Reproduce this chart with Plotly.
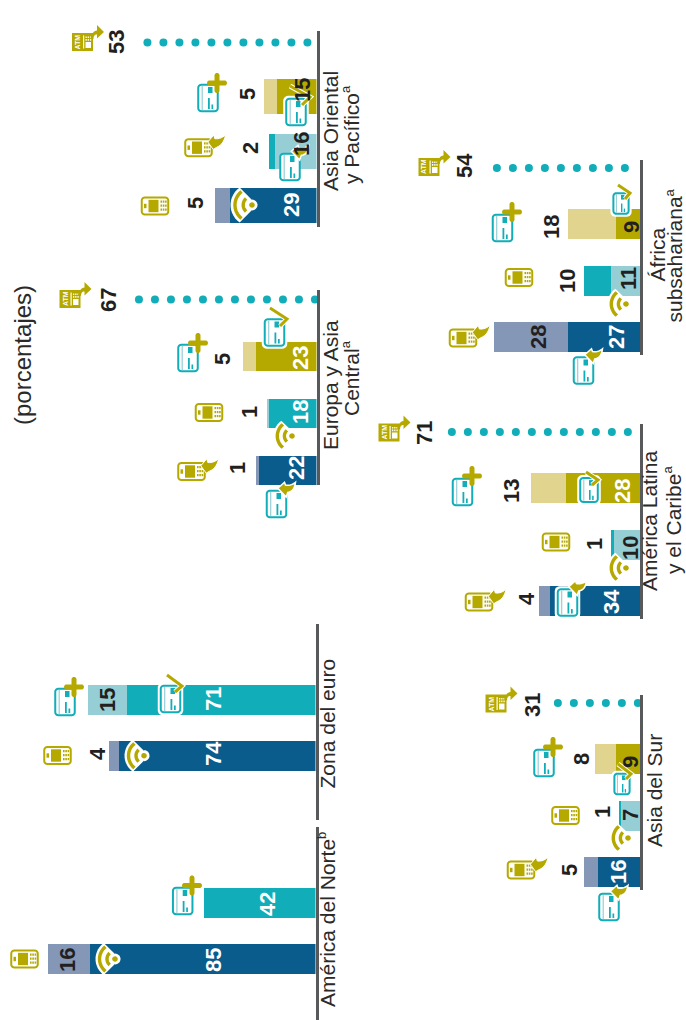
import math
import numpy as np
import plotly.graph_objects as go

W, H = 686, 1020

# Stacked shares per region: bars run from the baseline outwards
ROWS = ["Sin contacto", "Con tarjeta", "Crédito", "Cajero"]

NORTE_INNER = [85, 42]
NORTE_OUTER = [16, None]
EURO_INNER = [74, 71]
EURO_OUTER = [4, 15]
ORIENTAL_INNER = [29, 16, 15]
ORIENTAL_OUTER = [5, 2, 5]
ORIENTAL_ATM = 53
EUROPA_INNER = [22, 18, 23]
EUROPA_OUTER = [1, 1, 5]
EUROPA_ATM = 67
LATINA_INNER = [34, 10, 28]
LATINA_OUTER = [4, 1, 13]
LATINA_ATM = 71
AFRICA_INNER = [27, 11, 9]
AFRICA_OUTER = [28, 10, 18]
AFRICA_ATM = 54
SUR_INNER = [16, 7, 9]
SUR_OUTER = [5, 1, 8]
SUR_ATM = 31

NAVY, SLATE = "#0a5c8c", "#8497b7"
TEAL, PALE_TEAL = "#11adb8", "#96ced6"
OLIVE, PALE_OLIVE = "#b5a900", "#e0d48e"
AXIS_GREY = "#58595b"
INK = "#231f20"
FONT = "Liberation Sans"
PX_PER_UNIT = 2.65
DOT_GAP_PX = 16


def px(x, y):
    return f"{x / W:.5f},{1 - y / H:.5f}"


shapes = []


def add_path(points, fill=None, line=None, lw=0, close=True):
    d = "M" + " L".join(px(*p) for p in points) + (" Z" if close else "")
    shapes.append(dict(type="path", xref="paper", yref="paper", path=d, layer="above",
                       fillcolor=fill if fill else "rgba(0,0,0,0)",
                       line=dict(color=line if line else "rgba(0,0,0,0)", width=lw)))


def box(x0, y0, x1, y1, fill):
    add_path([(x0, y0), (x1, y0), (x1, y1), (x0, y1)], fill=fill)


def rounded(cx, cy, w, h, r):
    pts = []
    corners = [(cx + w / 2 - r, cy - h / 2 + r, -90), (cx + w / 2 - r, cy + h / 2 - r, 0),
               (cx - w / 2 + r, cy + h / 2 - r, 90), (cx - w / 2 + r, cy - h / 2 + r, 180)]
    for qx, qy, a0 in corners:
        for a in np.linspace(a0, a0 + 90, 6):
            pts.append((qx + r * math.cos(math.radians(a)), qy + r * math.sin(math.radians(a))))
    return pts


def arc(cx, cy, r, a0, a1, n=14):
    return [(cx + r * math.cos(math.radians(a)), cy + r * math.sin(math.radians(a)))
            for a in np.linspace(a0, a1, n)]


def curve(p0, c, p1, n=8):
    return [((1 - t) ** 2 * p0[0] + 2 * t * (1 - t) * c[0] + t ** 2 * p1[0],
             (1 - t) ** 2 * p0[1] + 2 * t * (1 - t) * c[1] + t ** 2 * p1[1])
            for t in np.linspace(0, 1, n)]


def swoosh_phone(cx, cy):
    o = [(9.3, -5.7), (15.3, -12.7), (16.3, -9)]
    o += curve((16.3, -9), (22, -8.3), (27, -12.7))
    o += curve((27, -12.7), (25.3, -3.3), (18, -0.3))
    o += [(14.7, 1.7)]
    add_path([(cx + a, cy + b) for a, b in o], fill=OLIVE, line="white", lw=1)


def phone(cx, cy, swoosh=False):
    add_path(rounded(cx, cy, 26.5, 17, 3), fill="white", line=OLIVE, lw=2)
    box(cx - 11, cy - 2.2, cx - 8.5, cy + 2.2, OLIVE)
    box(cx - 6.5, cy - 6.2, cx + 3.5, cy + 6.2, OLIVE)
    for col in range(3):
        for row in range(3):
            gx = cx + 5.5 + col * 2.3
            gy = cy - 5.5 + row * 4
            box(gx, gy, gx + 1.6, gy + 2.2, OLIVE)
    if swoosh:
        swoosh_phone(cx, cy)


def card(cx, cy, k=1.0, halo=False):
    w, h = 19.5 * k, 26.5 * k
    if halo:
        add_path(rounded(cx, cy, w + 6, h + 6, 5), fill="white")
    add_path(rounded(cx, cy, w, h, 3), fill="white", line=TEAL, lw=2)
    box(cx - 6.4 * k, cy - 12 * k, cx - 5.2 * k, cy + 12 * k, PALE_TEAL)
    box(cx, cy - 11 * k, cx + 4.5 * k, cy - 5 * k, TEAL)
    box(cx, cy, cx + 1.8 * k, cy + 11 * k, TEAL)
    box(cx + 3.5 * k, cy + 6.5 * k, cx + 5.2 * k, cy + 11 * k, TEAL)


def plus_mark(cx, cy):
    add_path(rounded(cx, cy, 20, 5, 2.4), fill=OLIVE)
    add_path(rounded(cx, cy, 5, 20, 2.4), fill=OLIVE)


def card_plus(cx, cy, mx, my):
    card(cx, cy)
    plus_mark(mx, my)


def card_check(cx, cy, tick, k=1.0):
    card(cx, cy, k, halo=True)
    add_path(tick, line="white", lw=5, close=False)
    add_path(tick, line=OLIVE, lw=3, close=False)


def card_swoosh(cx, cy, halo=False):
    card(cx, cy, halo=halo)
    o = [(1.3, -15.7), (8, -21.7), (9, -19)]
    o += curve((9, -19), (14.7, -18), (19, -21.7))
    o += curve((19, -21.7), (18, -12.3), (11.3, -11.7))
    o += [(9.7, -7)]
    add_path([(cx + a, cy + b) for a, b in o], fill=OLIVE, line="white", lw=1.5)


def wifi(cx, cy, k=1.0):
    spread = 55
    halo = [(cx + 5, cy)] + arc(cx, cy, 19.5 * k, 180 - spread, 180 + spread) + [(cx + 5, cy)]
    add_path(halo, fill="white")
    add_path(arc(cx, cy, 5.5, -90, 90), fill="white")
    add_path(arc(cx, cy, 2.8, 0, 360), fill=OLIVE)
    for r, a in ((8 * k, 48), (15.5 * k, spread - 3)):
        add_path(arc(cx, cy, r, 180 - a, 180 + a), line=OLIVE, lw=3.4, close=False)


annotations = []


def label(text, x, y, size=21, bold=False, color=INK):
    annotations.append(dict(
        text=f"<b>{text}</b>" if bold else text, x=x / W, y=1 - y / H, xref="paper", yref="paper",
        xanchor="center", yanchor="middle", showarrow=False, textangle=-90, borderpad=0,
        font=dict(family=FONT, size=size, color=color)))


def note(letter):
    return f'<sup><span style="font-size:13px">{letter}</span></sup>'


def atm(cx, cy):
    box(cx - 10.5, cy - 9, cx + 10.5, cy + 9, OLIVE)
    box(cx + 0.5, cy - 6.5, cx + 1.7, cy + 6.5, "white")
    for col in range(3):
        for row in range(2):
            gx, gy = cx + 3 + col * 2.2, cy - 5.5 + row * 2.6
            box(gx, gy, gx + 1.3, gy + 1.6, "white")
    box(cx + 3, cy, cx + 8.5, cy + 6, "white")
    o = [(8, -4)] + curve((8, -4), (10, -11), (14.5, -11.5))
    o += [(14.5, -17), (21.5, -10), (14.5, -3.5), (14.5, -7.5)]
    o += curve((14.5, -7.5), (11, -7.5), (11, -3))
    add_path([(cx + a, cy + b) for a, b in o], fill=OLIVE)
    label("ATM", cx - 5, cy, size=7, bold=True, color="white")


# Geometry of each small multiple, all in page pixels
PANELS = [
    dict(inner=NORTE_INNER, outer=NORTE_OUTER, atm=None, base=315.5, top=827, bottom=1020,
         first=959, step=56, thick=30, pale_first=False),
    dict(inner=EURO_INNER, outer=EURO_OUTER, atm=None, base=315.5, top=624, bottom=820,
         first=756, step=56, thick=30, pale_first=False),
    dict(inner=ORIENTAL_INNER, outer=ORIENTAL_OUTER, atm=ORIENTAL_ATM, base=316.5, top=31, bottom=227,
         first=205.3, step=54.3, thick=35, pale_first=True, lead_scale=3.0, dot_scale=3.19),
    dict(inner=EUROPA_INNER, outer=EUROPA_OUTER, atm=EUROPA_ATM, base=316.5, top=290, bottom=485,
         first=470.5, step=57, thick=29.5, pale_first=False),
    dict(inner=LATINA_INNER, outer=LATINA_OUTER, atm=LATINA_ATM, base=640, top=424, bottom=619,
         first=601, step=56.3, thick=30, pale_first=True),
    dict(inner=AFRICA_INNER, outer=AFRICA_OUTER, atm=AFRICA_ATM, base=640, top=160, bottom=355,
         first=337, step=56.3, thick=30, pale_first=True),
    dict(inner=SUR_INNER, outer=SUR_OUTER, atm=SUR_ATM, base=640, top=695, bottom=890,
         first=872, step=56.3, thick=30, pale_first=True),
]

fig = go.Figure()
layout_axes = {}
next_axis = len(PANELS) + 1


def extra_axis(domain, span, scale, base_x, anchor):
    """Overlay x axis for a row that runs on its own scale inside a panel."""
    global next_axis
    name = f"x{next_axis}"
    layout_axes[f"xaxis{next_axis}"] = dict(
        domain=domain, range=[span / scale, 0], anchor=anchor, overlaying=base_x,
        visible=False, fixedrange=True)
    next_axis += 1
    return name


for i, p in enumerate(PANELS, start=1):
    suffix = "" if i == 1 else str(i)
    span = min(p["base"], 316)
    xa, ya = f"x{suffix}", f"y{suffix}"
    n = len(p["inner"])
    teal_pair = (PALE_TEAL, TEAL) if p["pale_first"] else (TEAL, PALE_TEAL)
    inner_colors = [NAVY, teal_pair[0], OLIVE]
    outer_colors = [SLATE, teal_pair[1], PALE_OLIVE]
    width = p["thick"] / p["step"]
    domain = [(p["base"] - span) / W, p["base"] / W]

    groups = [(list(range(n)), xa)]
    if "lead_scale" in p:
        groups = [([0], extra_axis(domain, span, p["lead_scale"], xa, ya)), (list(range(1, n)), xa)]
    for idx, axis in groups:
        rows = [ROWS[k] for k in idx]
        fig.add_trace(go.Bar(y=rows, x=[p["inner"][k] for k in idx], orientation="h", width=width,
                             xaxis=axis, yaxis=ya, showlegend=False,
                             marker=dict(color=[inner_colors[k] for k in idx], line_width=0)))
        fig.add_trace(go.Bar(y=rows, x=[p["outer"][k] or 0 for k in idx], orientation="h", width=width,
                             xaxis=axis, yaxis=ya, showlegend=False,
                             marker=dict(color=[outer_colors[k] for k in idx], line_width=0)))
    if p["atm"] is not None:
        dot_scale = p.get("dot_scale", PX_PER_UNIT)
        dot_axis = extra_axis(domain, span, dot_scale, xa, ya) if "dot_scale" in p else xa
        dots = np.arange(p["atm"], 0, -DOT_GAP_PX / dot_scale)
        fig.add_trace(go.Scatter(x=dots, y=[ROWS[3]] * len(dots), mode="markers", xaxis=dot_axis, yaxis=ya,
                                 marker=dict(color=TEAL, size=8, line_width=0), cliponaxis=False,
                                 showlegend=False))
    layout_axes[f"xaxis{suffix}"] = dict(
        domain=domain, range=[span / PX_PER_UNIT, 0], anchor=ya, visible=False, fixedrange=True)
    layout_axes[f"yaxis{suffix}"] = dict(
        domain=[1 - p["bottom"] / H, 1 - p["top"] / H],
        range=[(p["first"] - p["bottom"]) / p["step"], (p["first"] - p["top"]) / p["step"]],
        type="category", categoryorder="array", categoryarray=ROWS, anchor=xa, side="right",
        showline=True, linecolor=AXIS_GREY, linewidth=3, showticklabels=False, ticks="",
        showgrid=False, zeroline=False, fixedrange=True)

# Value labels: (value, x, y, colour)
VALUE_LABELS = [
    (NORTE_OUTER[0], 67, 960, INK), (NORTE_INNER[0], 213, 960, "white"), (NORTE_INNER[1], 267, 904, "white"),
    (EURO_OUTER[0], 97, 754, INK), (EURO_INNER[0], 213, 754, "white"),
    (EURO_OUTER[1], 107, 700, INK), (EURO_INNER[1], 213, 699, "white"),
    (ORIENTAL_ATM, 117, 42, INK), (ORIENTAL_OUTER[0], 196, 203, INK), (ORIENTAL_OUTER[1], 250, 148, INK),
    (ORIENTAL_OUTER[2], 247, 94, INK), (ORIENTAL_INNER[0], 292, 205, "white"),
    (ORIENTAL_INNER[1], 302, 144, INK), (ORIENTAL_INNER[2], 302, 90, INK),
    (EUROPA_ATM, 108, 300, INK), (EUROPA_OUTER[2], 222, 359, INK), (EUROPA_OUTER[1], 249, 412, INK),
    (EUROPA_OUTER[0], 238, 468, INK), (EUROPA_INNER[2], 300, 358, "white"),
    (EUROPA_INNER[1], 300, 412, "white"), (EUROPA_INNER[0], 297, 468, "white"),
    (LATINA_ATM, 424, 433, INK), (LATINA_OUTER[2], 511, 491, INK), (LATINA_OUTER[1], 594, 544, INK),
    (LATINA_OUTER[0], 526, 599, INK), (LATINA_INNER[2], 622, 491, "white"),
    (LATINA_INNER[1], 630, 548, INK), (LATINA_INNER[0], 611, 602, "white"),
    (AFRICA_ATM, 465, 166, INK), (AFRICA_OUTER[2], 551, 227, INK), (AFRICA_OUTER[1], 567, 281, INK),
    (AFRICA_OUTER[0], 539, 337, INK), (AFRICA_INNER[2], 631, 227, INK),
    (AFRICA_INNER[1], 628, 279, INK), (AFRICA_INNER[0], 617, 337, "white"),
    (SUR_ATM, 532, 705, INK), (SUR_OUTER[2], 581, 759, INK), (SUR_OUTER[1], 602, 812, INK),
    (SUR_OUTER[0], 569, 870, INK), (SUR_INNER[2], 630, 762, INK),
    (SUR_INNER[1], 630, 815, INK), (SUR_INNER[0], 618, 872, "white"),
]

# Region names, one annotation per line: (text, x, y)
REGION_LINES = [
    ("América del Norte" + note("b"), 326, 920),
    ("Zona del euro", 327, 723.5),
    ("Asia Oriental", 330, 131),
    ("y Pacífico" + note("a"), 351, 134),
    ("Europa y Asia", 330, 385),
    ("Central" + note("a"), 350, 378),
    ("América Latina", 649, 521),
    ("y el Caribe" + note("a"), 672, 520),
    ("África", 657, 254.5),
    ("subsahariana" + note("a"), 673.5, 256),
    ("Asia del Sur", 654, 791),
]

# Payment-channel pictograms
for c in [(24.5, 959), (57.5, 755.5), (155, 206), (209, 412.5), (556, 542), (519, 277.5), (565.5, 815.5)]:
    phone(*c)
for c in [(198.5, 147.7), (191.5, 471.5), (479, 602), (463, 338), (521, 870)]:
    phone(*c, swoosh=True)
for c in [(115, 959, 1), (144, 755.7, 1), (252, 205, 1.1), (292, 436, 0.95), (626, 568, 0.95),
          (626, 304, 0.95), (628, 838, 0.95)]:
    wifi(*c)
for c in [(182.7, 901, 192, 885.5), (65, 702, 74, 687), (208, 98, 217, 83), (188, 358, 198, 343),
          (462.5, 492, 472, 476), (502.5, 228, 512, 212), (544, 763, 553, 747)]:
    card_plus(*c)
card_check(170.5, 699, [(167, 675), (182, 686), (175, 692)])
card_check(274.5, 332.5, [(270, 308), (287, 319), (280, 326)])
card_check(296, 112, [(290, 86), (310, 97), (302, 105)])
card_check(589, 490, [(586, 472), (598, 480), (592, 485)], k=0.9)
card_check(621, 203.5, [(618, 185), (630, 193), (625, 199)], k=0.78)
card_check(622, 784, [(618, 764), (631, 774), (626, 779)], k=0.78)
for c in [(276.5, 504), (290, 167), (583.5, 370.5), (609, 907)]:
    card_swoosh(*c)
card_swoosh(567.5, 602.5, halo=True)
for c in [(82.5, 42), (70, 299), (389, 432.5), (429, 167), (496, 703.5)]:
    atm(*c)

for value, x, y, color in VALUE_LABELS:
    label(str(value), x, y, size=22, bold=True, color=color)
for text, x, y in REGION_LINES:
    label(text, x, y, color="#2b2a29")
label("(porcentajes)", 22, 355, size=24, color="#2b2a29")

fig.update_layout(
    width=W, height=H, autosize=False, margin=dict(l=0, r=0, t=0, b=0),
    paper_bgcolor="white", plot_bgcolor="rgba(0,0,0,0)", barmode="stack", bargap=0,
    showlegend=False, shapes=shapes, annotations=annotations, **layout_axes)

fig.write_html("out.html", config=dict(displayModeBar=False))
